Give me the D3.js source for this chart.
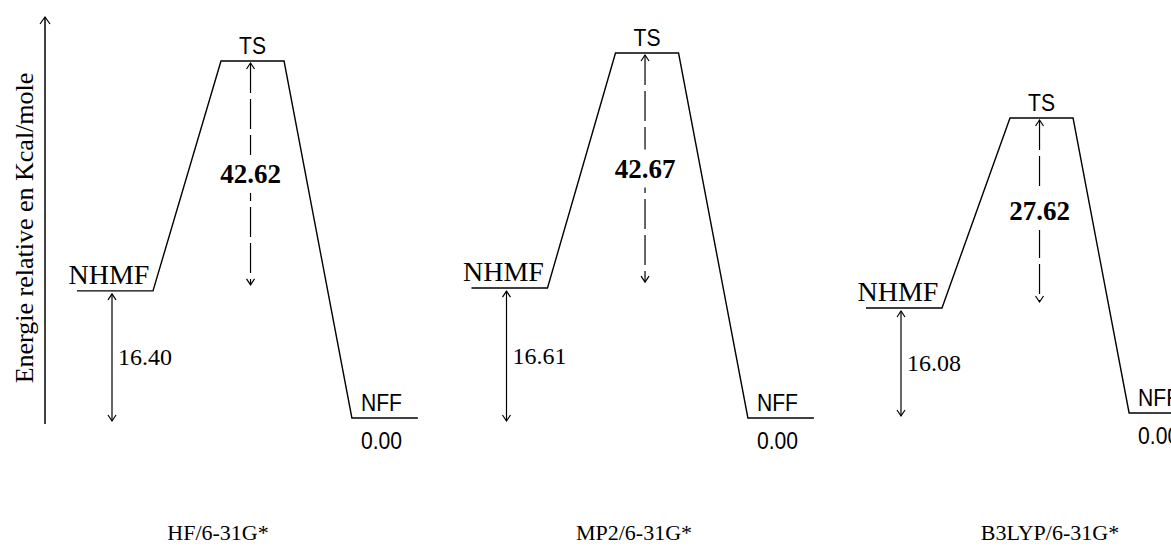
<!DOCTYPE html>
<html><head><meta charset="utf-8">
<script src="https://cdn.jsdelivr.net/npm/d3@7/dist/d3.min.js"></script>
<style>html,body{margin:0;padding:0;background:#fff}svg{display:block}</style>
</head><body>
<svg id="chart" width="1171" height="547"></svg>
<script>
// ---------- data ----------
const methods = ["HF/6-31G*", "MP2/6-31G*", "B3LYP/6-31G*"];
const stateNames = ["NHMF", "TS", "NFF"];
const nhmfEnergy = [16.40, 16.61, 16.08];     // NHMF relative to NFF
const barrierEnergy = [42.62, 42.67, 27.62];  // TS relative to NHMF
const nffEnergy = [0.00, 0.00, 0.00];
const axisTitle = "Energie relative en Kcal/mole";

// ---------- layout / style ----------
const W = 1171, H = 547;
const panelBase = [418, 418, 413];   // y of the zero level per panel
const panelTop  = [61, 53, 118];     // y of the TS level per panel
const nhmfShare = 0.356;             // schematic (broken) vertical scale
const serif = "'Liberation Serif','Times New Roman',serif";
const sans = "'Liberation Sans',Arial,sans-serif";

const svg = d3.select("#chart");

const panelX = d3.scalePoint().domain(methods).range([77, 866]);
const labelX = d3.scalePoint().domain(methods).range([218, 1050]);
// reaction coordinate inside a panel
const rc = d3.scaleLinear().domain([0, 1]).range([0, 340]);
const rcNhmfEnd = 0.2235, rcTsStart = 0.4235, rcTsEnd = 0.609;
const descentSlope = 0.19, nffWidth = 66;

function chevron(g, x, y, dir, hw = 4, hh = 6) {
  g.append("path")
    .attr("d", `M${x - hw},${y + dir * hh}L${x},${y}L${x + hw},${y + dir * hh}`)
    .attr("fill", "none").attr("stroke", "#000").attr("stroke-width", 1.2);
}

// ---------- axis ----------
const axisG = svg.append("g");
axisG.append("line").attr("x1", 45).attr("x2", 45).attr("y1", 424).attr("y2", 17)
  .attr("stroke", "#000").attr("stroke-width", 1.5);
chevron(axisG, 45, 17, 1, 5, 7);
axisG.append("text")
  .attr("transform", "translate(33,228) rotate(-90)")
  .attr("text-anchor", "middle")
  .attr("font-family", serif).attr("font-size", 26).attr("fill", "#000")
  .text(axisTitle);

// ---------- panels ----------
methods.forEach((m, i) => {
  const g = svg.append("g");
  const e0 = nffEnergy[i], e1 = nhmfEnergy[i], e2 = nhmfEnergy[i] + barrierEnergy[i];
  const base = panelBase[i], top = panelTop[i];
  const y = d3.scaleLinear().domain([e0, e1, e2])
    .range([base, base - nhmfShare * (base - top), top]);
  const x0 = panelX(m);
  const xN0 = x0, xN1 = x0 + rc(rcNhmfEnd);
  const xT0 = x0 + rc(rcTsStart), xT1 = x0 + rc(rcTsEnd);
  const xF0 = xT1 + descentSlope * (y(e0) - y(e2)), xF1 = xF0 + nffWidth;

  const yN = y(e1), yT = y(e2), yF = y(e0);

  // profile
  const line = d3.line();
  g.append("path")
    .attr("d", line([[xN0, yN], [xN1, yN], [xT0, yT], [xT1, yT], [xF0, yF], [xF1, yF]]))
    .attr("fill", "none").attr("stroke", "#000").attr("stroke-width", 1.4)
    .attr("stroke-linejoin", "miter");

  // state labels
  g.append("text").attr("x", (xN0 + xN1) / 2 - 6).attr("y", yN - 7)
    .attr("text-anchor", "middle").attr("font-family", serif).attr("font-size", 28)
    .text(stateNames[0]);
  g.append("text").attr("transform", `translate(${(xT0 + xT1) / 2},${yT - 7}) scale(0.88,1)`)
    .attr("text-anchor", "middle").attr("font-family", sans).attr("font-size", 24)
    .text(stateNames[1]);
  g.append("text").attr("transform", `translate(${xF0 + 9},${yF - 7}) scale(0.88,1)`)
    .attr("font-family", sans).attr("font-size", 24)
    .text(stateNames[2]);
  g.append("text").attr("transform", `translate(${xF0 + 9},${yF + 31}) scale(0.88,1)`)
    .attr("font-family", sans).attr("font-size", 24)
    .text(e0.toFixed(2));

  // NHMF -> zero arrow
  const ax1 = x0 + 35;
  const a1Top = yN + 3, a1Bot = yF + 3;
  g.append("line").attr("x1", ax1).attr("x2", ax1).attr("y1", a1Top).attr("y2", a1Bot)
    .attr("stroke", "#000").attr("stroke-width", 1.2);
  chevron(g, ax1, a1Top, 1);
  chevron(g, ax1, a1Bot, -1);
  g.append("text").attr("x", ax1 + 6).attr("y", (a1Top + a1Bot) / 2 + 8)
    .attr("font-family", serif).attr("font-size", 24).text(nhmfEnergy[i].toFixed(2));

  // barrier arrow (dashed)
  const ax2 = (xT0 + xT1) / 2 - 2;
  const a2Top = yT + 2, a2Bot = yN - 6;
  const mid = (a2Top + a2Bot) / 2;
  g.append("line").attr("x1", ax2).attr("x2", ax2).attr("y1", a2Top).attr("y2", a2Bot)
    .attr("stroke", "#000").attr("stroke-width", 1.2).attr("stroke-dasharray", "30,6");
  chevron(g, ax2, a2Top, 1);
  chevron(g, ax2, a2Bot, -1);
  g.append("rect").attr("x", ax2 - 36).attr("y", mid - 19).attr("width", 72).attr("height", 38)
    .attr("fill", "#fff");
  g.append("text").attr("x", ax2).attr("y", mid + 9)
    .attr("text-anchor", "middle").attr("font-family", serif).attr("font-size", 27)
    .attr("font-weight", "bold").text(barrierEnergy[i].toFixed(2));

  // method label
  svg.append("text").attr("x", labelX(m)).attr("y", 540)
    .attr("text-anchor", "middle").attr("font-family", serif).attr("font-size", 22)
    .text(m);
});
</script>
</body></html>
